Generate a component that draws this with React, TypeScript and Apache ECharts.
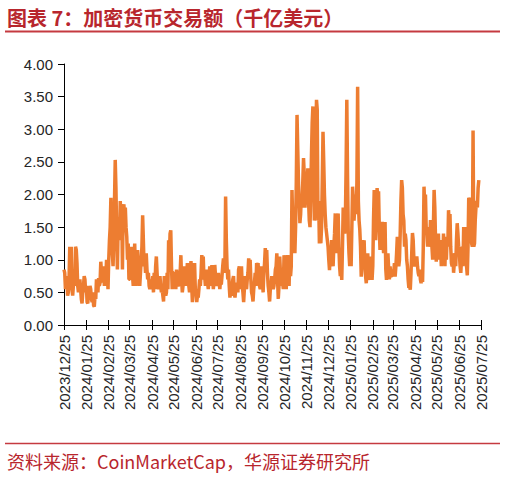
import React, { useEffect, useRef } from "react";
import * as echarts from "echarts";

// Daily trading volume (hundred-billion USD), grouped by month windows (25th to 24th)
const m2312 = [0.85,0.8,0.55,0.6,0.75,0.45,0.5,0.7,1.2,0.9,1.2,0.55,0.45,0.6,0.8,0.6,1.2,1.15,0.95,0.6,0.5,0.65,0.7,0.55,0.4,0.33,0.5,0.6,0.75,0.7,0.5];
const m2401 = [0.6,0.35,0.33,0.5,0.45,0.6,0.55,0.4,0.35,0.5,0.3,0.28,0.45,0.4,0.7,0.6,0.5,0.72,0.6,0.65,0.97,0.8,0.65,0.9,0.8,0.6,0.9,0.75,1.0,0.85,0.55];
const m2402 = [1.0,1.3,1.5,1.95,1.4,1.1,0.9,1.3,1.9,2.53,2.1,1.4,0.85,1.5,1.65,1.3,1.9,1.5,1.85,0.85,1.8,1.85,1.6,1.8,1.5,1.35,1.0,1.25,0.7];
const m2403 = [0.7,0.9,1.2,0.8,0.75,0.6,0.9,1.25,0.8,0.6,0.85,1.15,0.9,0.7,0.6,0.8,1.0,1.2,1.68,1.3,0.9,1.0,0.8,1.1,0.85,0.7,0.8,0.6,0.55,0.7,0.65];
const m2404 = [0.6,0.75,0.5,0.8,0.55,0.9,1.05,0.8,0.6,0.55,0.7,0.75,0.6,0.5,0.55,0.45,0.36,0.75,0.6,0.45,0.5,0.8,0.55,1.3,1.0,1.4,1.45,0.9,0.55,0.8];
const m2405 = [0.8,0.6,0.75,0.55,0.85,0.7,0.59,0.65,0.6,0.8,1.07,0.7,0.5,0.6,0.75,0.9,0.7,0.6,0.75,0.95,0.7,0.6,0.5,0.75,0.98,0.6,0.35,0.55,0.75,0.95,0.55];
const m2406 = [0.5,0.35,0.45,0.42,0.55,0.7,0.6,0.8,1.07,0.95,1.05,0.7,0.75,0.6,0.7,0.85,0.65,0.55,0.7,0.9,0.75,0.6,0.92,0.7,0.55,0.7,0.92,0.75,0.6,0.65];
const m2407 = [0.7,0.8,0.65,0.55,0.7,0.62,0.75,0.9,1.02,0.8,0.9,1.97,1.3,0.9,0.7,0.85,0.6,0.42,0.5,0.45,0.6,0.7,0.75,0.5,0.42,0.55,0.65,0.6,0.5,0.85,0.9];
const m2408 = [0.55,0.7,0.9,0.6,0.5,0.35,0.55,0.75,0.6,0.55,0.7,0.8,1.02,0.9,1.0,0.7,0.5,0.45,0.36,0.55,0.65,0.8,0.6,0.95,0.9,0.95,0.7,0.6,0.55,0.7,0.9];
const m2409 = [0.7,0.5,0.8,0.95,1.18,1.0,1.15,0.8,0.6,0.5,0.36,0.55,0.6,0.75,0.65,0.55,0.6,0.7,0.85,0.9,1.1,0.7,0.4,0.6,1.05,0.8,0.6,0.75,0.65,0.55];
const m2410 = [1.07,0.8,0.65,0.55,0.8,1.07,0.9,0.6,1.07,0.75,0.9,2.07,1.6,1.1,1.3,1.1,1.5,2.2,3.22,2.7,2.2,1.9,1.56,1.7,2.0,1.8,2.2,2.56,2.3,1.8,1.97];
const m2411 = [1.97,2.2,2.4,1.9,1.6,1.5,2.0,2.6,3.1,3.35,2.4,1.6,2.1,2.9,3.45,3.3,1.6,1.9,1.25,1.4,1.25,1.5,2.2,2.96,2.5,2.0,1.7,1.5,1.4,1.3];
const m2412 = [1.2,1.0,0.84,1.1,0.95,1.3,1.0,0.9,1.2,1.4,1.71,1.3,1.1,1.5,1.71,1.2,0.9,0.75,0.9,0.69,1.2,1.8,1.75,1.4,1.6,2.4,3.45,2.3,1.4,1.1,0.9];
const m2501 = [1.1,0.9,1.5,2.12,1.9,1.6,1.8,2.0,1.7,2.2,3.65,1.9,1.6,1.46,1.2,0.74,1.0,1.3,1.1,1.3,0.9,0.75,0.64,0.9,1.1,0.8,0.69,0.9,1.05,0.85,0.69];
const m2502 = [0.9,1.6,2.07,1.8,1.3,1.7,2.1,1.9,2.05,1.5,1.15,1.45,1.2,1.58,1.3,1.1,1.5,1.58,0.86,0.69,0.9,1.1,0.85,0.7,0.9,0.75,0.74,0.85];
const m2503 = [0.75,0.8,0.95,0.74,0.9,1.1,1.35,1.2,0.9,1.0,1.4,1.9,2.22,2.1,1.7,1.6,1.2,1.4,1.3,1.0,0.9,0.7,0.57,0.6,0.54,0.8,1.1,1.41,1.3,1.0,0.9];
const m2504 = [0.95,0.9,1.05,0.9,0.8,0.75,0.85,0.7,0.64,0.75,0.66,1.2,2.12,1.8,2.0,1.5,1.4,1.2,1.5,1.2,1.3,1.61,1.4,1.2,1.0,1.5,2.07,1.8,1.3,0.97];
const m2505 = [1.3,1.1,1.4,1.0,1.3,1.2,0.9,1.3,0.95,1.4,1.1,0.9,1.3,1.0,1.35,1.2,1.76,1.5,1.7,1.2,0.95,0.9,1.1,0.8,0.95,1.1,0.9,1.3,1.56,1.4,1.2];
const m2506 = [1.1,0.9,0.8,1.0,1.2,0.9,1.5,1.3,1.5,1.1,0.9,0.76,1.2,1.95,1.9,1.95,1.5,1.25,1.2,2.98,1.2,1.25,1.6,1.8,1.9,1.8,2.1,2.22];

const volumes = [
  ...m2312, ...m2401, ...m2402, ...m2403, ...m2404, ...m2405, ...m2406,
  ...m2407, ...m2408, ...m2409, ...m2410, ...m2411, ...m2412, ...m2501,
  ...m2502, ...m2503, ...m2504, ...m2505, ...m2506,
];

// Daily category dates from 2023/12/25 to 2025/07/25
const START = Date.UTC(2023, 11, 25);
const END = Date.UTC(2025, 6, 25);
const pad = (n: number) => String(n).padStart(2, "0");
const dates: string[] = [];
for (let t = START; t <= END; t += 86400000) {
  const d = new Date(t);
  dates.push(`${d.getUTCFullYear()}/${pad(d.getUTCMonth() + 1)}/${pad(d.getUTCDate())}`);
}

const TITLE = "图表 7：加密货币交易额（千亿美元）";
const SOURCE = "资料来源：CoinMarketCap，华源证券研究所";

const RED = "#b8262d";
const LINE_RED = "#c53a40";
const ORANGE = "#ED7D31";
const LABEL = "#262626";
const LATIN = "'Liberation Sans', Arial, sans-serif";
const CJK = "'Noto Sans CJK SC', sans-serif";

const isMark = (_i: number, v: string) => v.slice(8) === "25";

export default function App() {
  const ref = useRef<HTMLDivElement>(null);
  useEffect(() => {
    if (!ref.current) return;
    const chart = echarts.init(ref.current, undefined, { renderer: "svg" });
    chart.setOption({
      animation: false,
      grid: { left: 64, top: 64, right: 25, bottom: 153, containLabel: false },
      xAxis: [
        {
          type: "category",
          data: dates,
          boundaryGap: false,
          axisLine: { show: true, lineStyle: { color: "#000", width: 1 } },
          axisTick: { show: true, interval: isMark, length: 5, lineStyle: { color: "#000" } },
          axisLabel: {
            interval: isMark,
            rotate: 90,
            margin: 10,
            fontSize: 15,
            color: LABEL,
            fontFamily: LATIN,
          },
          splitLine: { show: false },
        },
        {
          type: "category",
          data: dates,
          boundaryGap: false,
          position: "bottom",
          gridIndex: 0,
          axisLine: { show: false },
          axisLabel: { show: false },
          axisTick: { show: true, inside: true, interval: isMark, length: 5, lineStyle: { color: "#000" } },
          splitLine: { show: false },
        },
      ],
      yAxis: {
        type: "value",
        min: 0,
        max: 4,
        interval: 0.5,
        axisLine: { show: true, lineStyle: { color: "#000", width: 1 } },
        axisTick: { show: true, length: 6, lineStyle: { color: "#000" } },
        axisLabel: {
          formatter: (v: number) => v.toFixed(2),
          fontSize: 15,
          margin: 11,
          color: LABEL,
          fontFamily: LATIN,
        },
        splitLine: { show: false },
      },
      series: [
        {
          type: "line",
          data: volumes,
          xAxisIndex: 0,
          showSymbol: false,
          symbol: "none",
          lineStyle: { color: ORANGE, width: 3.5 },
          itemStyle: { color: ORANGE },
        },
      ],
      graphic: [
        {
          type: "text",
          x: 7,
          y: 17,
          style: {
            text: TITLE,
            fontSize: 20,
            fontWeight: "bold",
            fontFamily: CJK,
            fill: RED,
            align: "left",
            verticalAlign: "middle",
          },
        },
        {
          type: "line",
          shape: { x1: 5, y1: 31.5, x2: 500, y2: 31.5 },
          style: { stroke: LINE_RED, lineWidth: 2 },
        },
        {
          type: "line",
          shape: { x1: 5, y1: 443.5, x2: 500, y2: 443.5 },
          style: { stroke: LINE_RED, lineWidth: 1.5 },
        },
        {
          type: "text",
          x: 7,
          y: 461,
          style: {
            text: SOURCE,
            fontSize: 18,
            fontFamily: CJK,
            fill: RED,
            align: "left",
            verticalAlign: "middle",
          },
        },
      ],
    });
    return () => chart.dispose();
  }, []);
  return (
    <div
      ref={ref}
      style={{ position: "absolute", left: 0, top: 0, width: 506, height: 478, background: "#fff" }}
    />
  );
}
